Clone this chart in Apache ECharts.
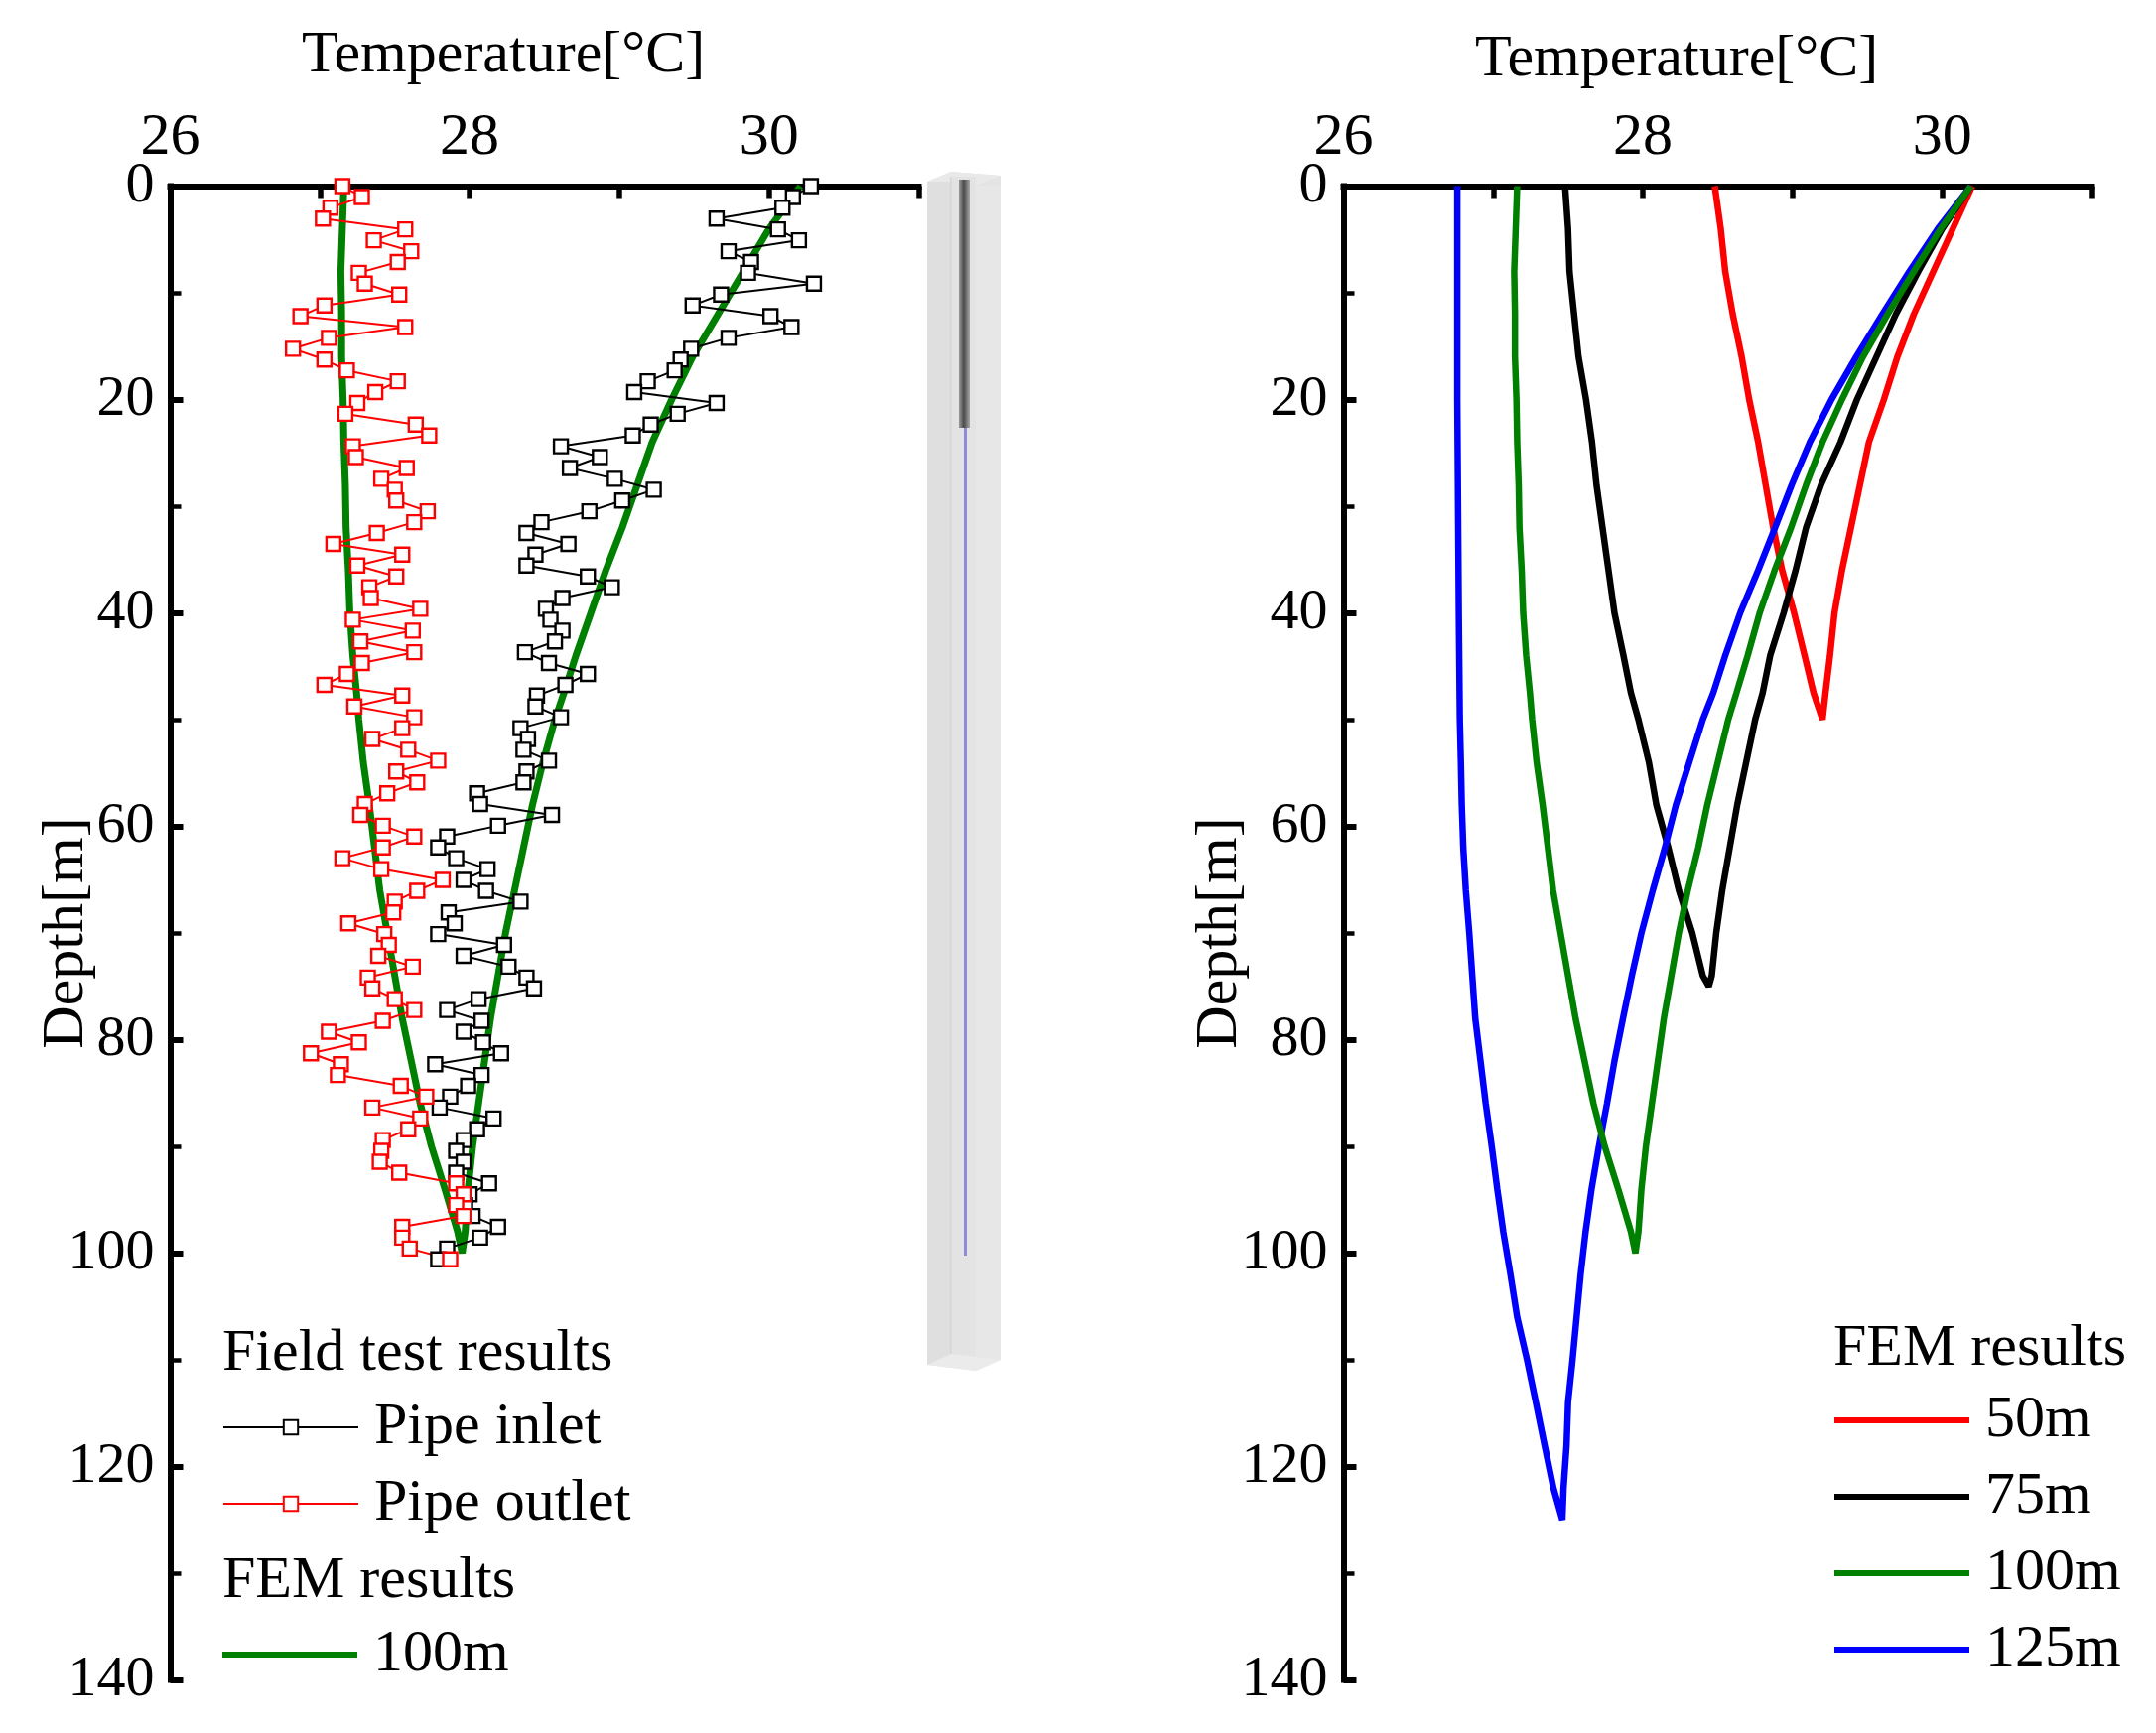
<!DOCTYPE html>
<html>
<head>
<meta charset="utf-8">
<style>html,body{margin:0;padding:0;background:#fff}#c{width:2172px;height:1746px}</style>
<script src="https://cdn.jsdelivr.net/npm/echarts@6/dist/echarts.min.js"></script>
</head>
<body>
<div id="c"></div>
<script>
const fieldDepth = [0,1.02,2.03,3.05,4.06,5.08,6.1,7.11,8.13,9.14,10.16,11.18,12.19,13.21,14.22,15.24,16.26,17.27,18.29,19.3,20.32,21.34,22.35,23.37,24.38,25.4,26.42,27.43,28.45,29.46,30.48,31.5,32.51,33.53,34.54,35.56,36.58,37.59,38.61,39.62,40.64,41.66,42.67,43.69,44.7,45.72,46.74,47.75,48.77,49.78,50.8,51.82,52.83,53.85,54.86,55.88,56.9,57.91,58.93,59.94,60.96,61.98,62.99,64.01,65.02,66.04,67.06,68.07,69.09,70.1,71.12,72.14,73.15,74.17,75.18,76.2,77.22,78.23,79.25,80.26,81.28,82.3,83.31,84.33,85.34,86.36,87.38,88.39,89.41,90.42,91.44,92.46,93.47,94.49,95.5,96.52,97.54,98.55,99.57,100.58];
const pipeInlet = [30.28,30.16,30.09,29.65,30.06,30.2,29.73,29.88,29.86,30.3,29.68,29.49,30.01,30.15,29.73,29.48,29.41,29.37,29.19,29.1,29.65,29.39,29.21,29.09,28.61,28.87,28.67,28.97,29.23,29.02,28.8,28.48,28.38,28.66,28.44,28.38,28.79,28.95,28.62,28.51,28.54,28.62,28.57,28.37,28.53,28.79,28.64,28.45,28.44,28.61,28.34,28.39,28.36,28.53,28.38,28.36,28.05,28.07,28.55,28.19,27.85,27.79,27.91,28.12,27.96,28.11,28.34,27.86,27.9,27.79,28.23,27.96,28.26,28.38,28.43,28.06,27.85,28.08,27.96,28.09,28.21,27.77,28.08,27.99,27.87,27.8,28.16,28.05,27.96,27.91,27.96,27.91,28.13,28,27.97,28.02,28.19,28.07,27.85,27.79];
const pipeOutlet = [27.15,27.28,27.07,27.02,27.57,27.36,27.61,27.52,27.26,27.3,27.53,27.03,26.87,27.57,27.06,26.82,27.03,27.18,27.52,27.37,27.25,27.17,27.64,27.73,27.22,27.24,27.58,27.41,27.5,27.51,27.72,27.63,27.38,27.09,27.55,27.25,27.51,27.33,27.34,27.67,27.22,27.62,27.27,27.63,27.28,27.18,27.03,27.55,27.23,27.63,27.55,27.35,27.59,27.79,27.51,27.65,27.45,27.3,27.27,27.42,27.63,27.42,27.15,27.41,27.82,27.65,27.5,27.49,27.19,27.43,27.46,27.39,27.62,27.32,27.35,27.5,27.63,27.42,27.06,27.26,26.94,27.14,27.12,27.54,27.71,27.35,27.67,27.59,27.42,27.41,27.4,27.53,27.91,27.96,27.91,27.96,27.55,27.55,27.6,27.87];

const fem50Depth = [0,4,8,12,16,20,24,28,32,36,40,44,47.5,50,47.5,44,40,36,32,28,24,20,16,12,8,4,0];
const fem50Temp = [28.48,28.52,28.55,28.6,28.66,28.71,28.77,28.82,28.87,28.93,29.01,29.08,29.14,29.2,29.22,29.25,29.28,29.33,29.39,29.45,29.51,29.61,29.7,29.81,29.94,30.07,30.2];

const fem75Depth = [0,4,8,12,16,20,24,28,32,36,40,44,47.5,50,54,58,62,66,70,74,75,74,70,66,62,58,54,50,47.5,44,40,36,32,28,24,20,16,12,8,4,0];
const fem75Temp = [27.48,27.5,27.51,27.54,27.57,27.62,27.66,27.69,27.73,27.77,27.81,27.87,27.92,27.97,28.04,28.09,28.17,28.24,28.33,28.4,28.44,28.46,28.49,28.53,28.58,28.63,28.69,28.75,28.8,28.85,28.94,29.02,29.09,29.19,29.32,29.43,29.56,29.69,29.84,30,30.19];

const fem100Depth = [0,4,8,12,16,20,24,28,32,36,40,44,47.5,50,54,58,62,66,70,74,78,82,86,90,94,98,100,98,94,90,86,82,78,74,70,66,62,58,54,50,47.5,44,40,36,32,28,24,20,16,12,8,4,0];
const fem100Temp = [27.16,27.15,27.14,27.145,27.145,27.155,27.16,27.17,27.175,27.19,27.2,27.22,27.245,27.26,27.29,27.33,27.365,27.4,27.45,27.5,27.55,27.61,27.67,27.745,27.835,27.92,27.95,27.97,27.99,28.02,28.06,28.1,28.14,28.19,28.24,28.3,28.37,28.43,28.5,28.57,28.625,28.7,28.78,28.88,28.99,29.09,29.2,29.33,29.47,29.635,29.81,29.99,30.19];
const leftFem100Temp = [27.16,27.15,27.14,27.145,27.145,27.155,27.16,27.17,27.175,27.19,27.2,27.22,27.245,27.26,27.29,27.33,27.365,27.4,27.45,27.5,27.55,27.61,27.67,27.745,27.835,27.92,27.95,27.97,27.99,28.02,28.06,28.1,28.14,28.19,28.24,28.3,28.36,28.42,28.49,28.57,28.63,28.71,28.81,28.91,29.02,29.12,29.22,29.35,29.49,29.66,29.83,30,30.21];

const fem125Depth = [0,10,20,30,40,50,54,58,62,66,70,74,78,82,86,90,94,98,102,106,110,114,118,122,125,122,118,114,110,106,102,98,94,90,86,82,78,74,70,66,62,58,54,50,47.5,44,40,36,32,28,24,20,16,12,8,4,0];
const fem125Temp = [26.76,26.76,26.76,26.765,26.77,26.777,26.784,26.79,26.8,26.817,26.84,26.86,26.88,26.915,26.95,26.99,27.027,27.067,27.115,27.16,27.226,27.285,27.343,27.402,27.462,27.47,27.49,27.5,27.53,27.557,27.584,27.617,27.657,27.706,27.76,27.81,27.867,27.926,27.99,28.066,28.147,28.22,28.31,28.4,28.47,28.55,28.65,28.77,28.883,28.994,29.115,29.26,29.425,29.6,29.78,29.97,30.19];

const xTickLabels = ['26','28','30'];
const depthTickLabels = ['0','20','40','60','80','100','120','140'];

const serif = '"Liberation Serif","Times New Roman",serif';
const FS = 60;
const pairs = (t, d) => t.map((v, i) => [v, d[i]]);

function xAxis(gridIndex) {
  return {
    type: 'value', gridIndex, position: 'top', min: 26, max: 31, interval: 1,
    axisLine: { show: true, onZero: false, lineStyle: { color: '#000', width: 6, cap: 'square' } },
    axisTick: { show: true, inside: true, length: 12, lineStyle: { color: '#000', width: 5.5 } },
    axisLabel: { fontFamily: serif, fontSize: FS, color: '#000', margin: 18, showMinLabel: true, showMaxLabel: true,
      formatter: v => xTickLabels.includes(String(v)) ? String(v) : '' },
    splitLine: { show: false }
  };
}
function yAxis(gridIndex, gap) {
  return {
    type: 'value', gridIndex, inverse: true, min: 0, max: 140, interval: 20,
    name: 'Depth[m]', nameLocation: 'middle', nameRotate: 90, nameGap: gap, nameMoveOverlap: false,
    nameTextStyle: { fontFamily: serif, fontSize: FS, color: '#000' },
    axisLine: { show: true, onZero: false, lineStyle: { color: '#000', width: 6, cap: 'square' } },
    axisTick: { show: true, inside: true, length: 13, lineStyle: { color: '#000', width: 6 } },
    minorTick: { show: true, splitNumber: 2, length: 11, lineStyle: { color: '#000', width: 4.5 } },
    axisLabel: { fontFamily: serif, fontSize: 58, color: '#000', margin: 16,
      formatter: v => depthTickLabels.includes(String(v)) ? String(v) : '' },
    splitLine: { show: false }, minorSplitLine: { show: false }
  };
}
function curve(name, gridIndex, color, t, d, width) {
  return { name, type: 'line', xAxisIndex: gridIndex, yAxisIndex: gridIndex, data: pairs(t, d),
    symbol: 'none', smooth: false, clip: false, lineStyle: { color, width, join: 'bevel' }, itemStyle: { color } };
}
function field(name, color, t) {
  return { name, type: 'line', xAxisIndex: 0, yAxisIndex: 0, data: pairs(t, fieldDepth),
    symbol: 'rect', symbolSize: 14, showAllSymbol: true, clip: false,
    lineStyle: { color, width: 2 }, itemStyle: { color: '#fff', borderColor: color, borderWidth: 2.4 } };
}
const legendText = { fontFamily: serif, fontSize: FS, color: '#000', lineHeight: 60, padding: [6, 0, 0, 11] };
function legend(left, top, itemHeight, data) {
  return { left, top, orient: 'vertical', itemWidth: 136, itemHeight, itemGap: 11, padding: 0,
    selectedMode: false, data, textStyle: legendText };
}
function titleAt(text, left, top) {
  return { text, left, top, padding: 0, textStyle: { fontFamily: serif, fontSize: FS, fontWeight: 'normal', color: '#000' } };
}

const option = {
  animation: false,
  backgroundColor: '#fff',
  grid: [
    { left: 171.5, top: 187.5, width: 754, height: 1505 },
    { left: 1353.5, top: 187.5, width: 754, height: 1505 }
  ],
  xAxis: [xAxis(0), xAxis(1)],
  yAxis: [yAxis(0, 74), yAxis(1, 94)],
  title: [
    titleAt('Temperature[°C]', 304, 26),
    titleAt('Temperature[°C]', 1486, 30),
    titleAt('Field test results', 224, 1334),
    titleAt('FEM results', 224, 1563),
    titleAt('FEM results', 1847, 1329)
  ],
  legend: [
    legend(224, 1405, 18, [{ name: 'Pipe inlet' }, { name: 'Pipe outlet' }]),
    legend(224, 1634, 6, [{ name: '100m', icon: 'rect' }]),
    legend(1848, 1398, 6, [{ name: '50m', icon: 'rect' }, { name: '75m', icon: 'rect' }, { name: '100m', icon: 'rect' }, { name: '125m', icon: 'rect' }])
  ],
  series: [
    curve('100m', 0, '#008000', leftFem100Temp, fem100Depth, 7),
    field('Pipe inlet', '#000000', pipeInlet),
    field('Pipe outlet', '#ff0000', pipeOutlet),
    curve('50m', 1, '#ff0000', fem50Temp, fem50Depth, 6.5),
    curve('75m', 1, '#000000', fem75Temp, fem75Depth, 6.5),
    curve('125m', 1, '#0000ff', fem125Temp, fem125Depth, 6.5),
    curve('100m', 1, '#008000', fem100Temp, fem100Depth, 6.5)
  ],
  graphic: { elements: [
    { type: 'polygon', silent: true, z: -5, shape: { points: [[934,183],[958,173],[1008,177],[1008,1370],[983,1381],[934,1375]] }, style: { fill: '#e4e4e4' } },
    { type: 'polygon', silent: true, z: -4, shape: { points: [[934,183],[958,173],[1008,177],[983,187]] }, style: { fill: '#e9e9e9' } },
    { type: 'rect', silent: true, z: -4, shape: { x: 934, y: 183, width: 24, height: 1192 }, style: { fill: '#dfdfdf' } },
    { type: 'rect', silent: true, z: -4, shape: { x: 958, y: 178, width: 25, height: 1186 }, style: { fill: '#e3e3e3' } },
    { type: 'rect', silent: true, z: -4, shape: { x: 983, y: 187, width: 25, height: 1183 }, style: { fill: '#e7e7e7' } },
    { type: 'polygon', silent: true, z: -3, shape: { points: [[934,1375],[958,1364],[1008,1370],[983,1381]] }, style: { fill: '#ebebeb' } },
    { type: 'rect', silent: true, z: -2, shape: { x: 957, y: 178, width: 1.5, height: 1186 }, style: { fill: '#d6d6d6' } },
    { type: 'rect', silent: true, z: -2, shape: { x: 966, y: 181, width: 11, height: 250 }, style: { fill: { type: 'linear', x: 0, y: 0, x2: 1, y2: 0, colorStops: [{ offset: 0, color: '#9a9a9a' }, { offset: 0.45, color: '#4a4a4a' }, { offset: 1, color: '#a8a8a8' }] } } },
    { type: 'rect', silent: true, z: -2, shape: { x: 971, y: 431, width: 3, height: 834 }, style: { fill: '#8c8cd8' } }
  ] }
};
echarts.init(document.getElementById('c'), null, { renderer: 'canvas' }).setOption(option);
</script>
</body>
</html>
